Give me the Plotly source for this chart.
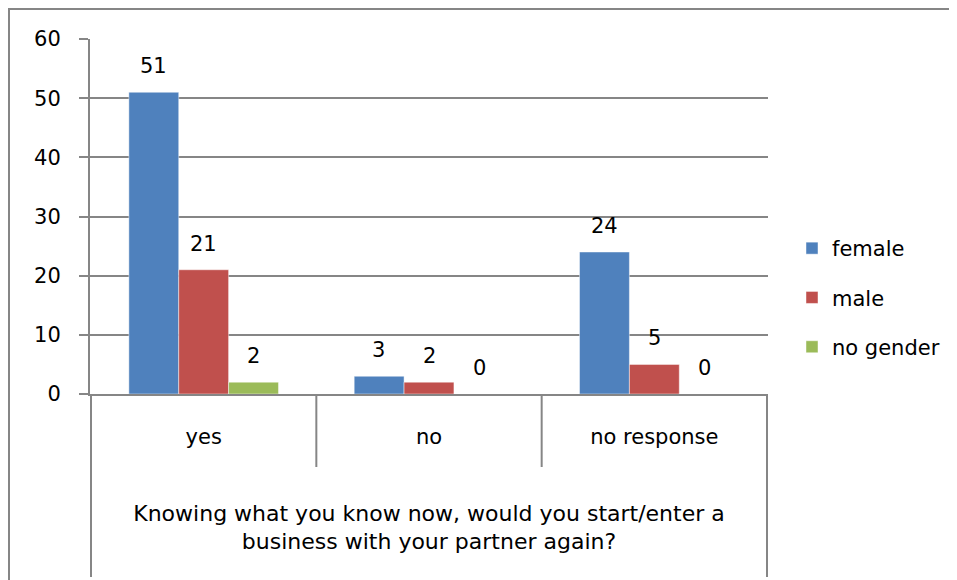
import plotly.graph_objects as go

categories = ["yes", "no", "no response"]
female = [51, 3, 24]
male = [21, 2, 5]
no_gender = [2, 0, 0]
series_names = ["female", "male", "no gender"]
series_values = [female, male, no_gender]
colors = ["#4F81BD", "#C0504D", "#9BBB59"]
y_ticks = [0, 10, 20, 30, 40, 50, 60]
axis_title = "Knowing what you know now, would you start/enter a<br>business with your partner again?"

W, H = 957, 580
OFF = 8  # page body margin in the browser
# desired plot area in page pixels
PX0, PX1, PY0, PY1 = 90, 768, 39, 394
L = PX0 - OFF
R = W - (PX1 - OFF)
T = PY0 - OFF
B = H - (PY1 - OFF)
plot_w = PX1 - PX0
plot_h = PY1 - PY0
bargap = 0.336
bar_px = plot_w / len(categories) * (1 - bargap) / len(series_names)

FONT = "DejaVu Sans"
GRAY = "#868686"

fig = go.Figure()
for i, (name, vals) in enumerate(zip(series_names, series_values)):
    fig.add_trace(go.Bar(
        x=categories, y=vals, name=name, legendgroup=name,
        marker=dict(color=colors[i], line=dict(color="rgba(255,255,255,0.45)", width=1)),
    ))
    for c, v in zip(categories, vals):
        fig.add_annotation(
            x=c, y=v, xref="x", yref="y", text=str(v), showarrow=False,
            xshift=(i - (len(series_names) - 1) / 2) * bar_px, yshift=26,
            font=dict(family=FONT, size=21, color="#000000"),
        )

n = len(categories)
for k in range(n + 1):
    outer = k == 0 or k == n
    fig.add_shape(type="line", xref="x", yref="paper",
                  x0=k - 0.5, x1=k - 0.5, y0=0,
                  y1=-(577 - PY1) / plot_h if outer else -(467 - PY1) / plot_h,
                  line=dict(color=GRAY, width=2))

# chart area border (top and left visible)
fig.add_shape(type="rect", xref="paper", yref="paper",
              x0=(OFF + 1 - PX0) / plot_w, x1=2.0,
              y0=(PY1 - 9) / plot_h, y1=-2.0,
              line=dict(color=GRAY, width=2), fillcolor="rgba(0,0,0,0)", layer="below")

fig.update_layout(
    width=W, height=H,
    margin=dict(l=L, r=R, t=T, b=B, autoexpand=False),
    paper_bgcolor="white", plot_bgcolor="white",
    barmode="group", bargap=bargap, bargroupgap=0,
    font=dict(family=FONT, size=21, color="#000000"),
    showlegend=True,
    legend=dict(
        x=(792 - PX0) / plot_w, xanchor="left",
        y=(PY1 - 228) / plot_h, yanchor="top",
        traceorder="grouped", tracegroupgap=19,
        font=dict(family=FONT, size=21, color="#000000"),
        bgcolor="rgba(0,0,0,0)",
    ),
    xaxis=dict(
        type="category", showgrid=False, zeroline=False,
        showline=True, linecolor=GRAY, linewidth=2,
        ticks="", ticklabelstandoff=23,
        tickfont=dict(family=FONT, size=21, color="#000000"),
        title=dict(text=axis_title, standoff=57,
                   font=dict(family=FONT, size=22, color="#000000")),
    ),
    yaxis=dict(
        range=[0, 60], tickvals=y_ticks, ticktext=[str(v) for v in y_ticks],
        showgrid=True, gridcolor=GRAY, gridwidth=1.5,
        zeroline=False, showline=True, linecolor=GRAY, linewidth=2,
        ticks="outside", ticklen=9, tickcolor=GRAY, tickwidth=1.5,
        ticklabelstandoff=14,
        tickfont=dict(family=FONT, size=21, color="#000000"),
    ),
)

fig.write_html("out.html")
